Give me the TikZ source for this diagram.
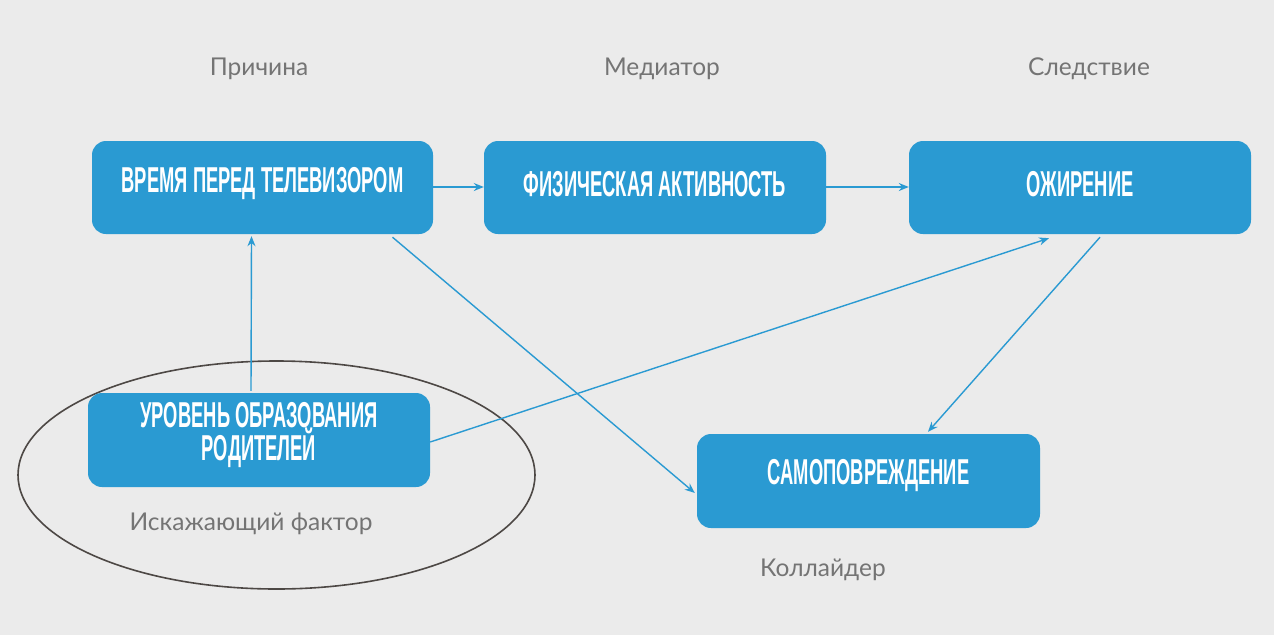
\documentclass[tikz,border=0pt]{standalone}
\usepackage{fontspec}
\setmainfont{Lato}
\newfontfamily\boxfont{Liberation Sans}[FakeStretch=0.51]
\usetikzlibrary{shapes.geometric,arrows.meta}
\definecolor{bg}{HTML}{EBEBEB}
\definecolor{boxblue}{HTML}{2A9AD2}
\definecolor{lblgray}{HTML}{747474}
\definecolor{ellgray}{HTML}{4D4845}
\tikzset{
  box/.style={draw=none,fill=boxblue,rounded corners=14pt,inner sep=0pt},
  boxtext/.style={text=white,font=\boxfont\bfseries\fontsize{36}{32}\selectfont,align=center,inner sep=0pt},
  lbl/.style={text=lblgray,font=\fontsize{24.5}{28}\selectfont,inner sep=0pt},
  conn/.style={draw=boxblue,line width=1.4pt,-{Stealth[length=10pt,width=8pt]}},
  ell/.style={draw=ellgray,line width=1.6pt,ellipse,inner sep=0pt}
}
\begin{document}
\begin{tikzpicture}[x=1pt,y=-1pt]
\fill[bg] (0,0) rectangle (1274,635);
\useasboundingbox (0,0) rectangle (1274,635);
% labels
\node[lbl] (lcause) at (259,69) {Причина};
\node[lbl] (lmed) at (662,69) {Медиатор};
\node[lbl] (leff) at (1089,69) {Следствие};
% ellipse
\node[ell,minimum width=517pt,minimum height=228pt] (conf) at (276.5,475) {};
\node[lbl] (lconf) at (251,524) {Искажающий фактор};
\node[lbl] (lcoll) at (823,570) {Коллайдер};
% boxes
\node[box,minimum width=341pt,minimum height=93pt] (tv) at (262.5,187.5) {};
\node[boxtext] (tvt) at (262.5,184) {ВРЕМЯ ПЕРЕД ТЕЛЕВИЗОРОМ};
\node[box,minimum width=342pt,minimum height=93pt] (phys) at (655,187.5) {};
\node[boxtext] (physt) at (655,184) {ФИЗИЧЕСКАЯ АКТИВНОСТЬ};
\node[box,minimum width=342pt,minimum height=93pt] (obese) at (1080,187.5) {};
\node[boxtext] (obeset) at (1080,184) {ОЖИРЕНИЕ};
\node[box,minimum width=342pt,minimum height=94pt] (edu) at (259,440) {};
\node[boxtext] (edut) at (259,435) {УРОВЕНЬ ОБРАЗОВАНИЯ\\РОДИТЕЛЕЙ};
\node[box,minimum width=343pt,minimum height=94pt] (samo) at (868.5,481) {};
\node[boxtext] (samot) at (868.5,476) {САМОПОВРЕЖДЕНИЕ};
% connectors
\draw[conn] ([yshift=0.5pt]tv.east) -- ([yshift=0.5pt]phys.west);
\draw[conn] ([yshift=0.5pt]phys.east) -- ([yshift=0.5pt]obese.west);
\draw[conn] ([xshift=-8pt,yshift=2pt]edu.north) -- ([xshift=-11pt,yshift=-2pt]tv.south);
\draw[conn] ([xshift=130pt,yshift=-3pt]tv.south) -- ([xshift=-2pt,yshift=-12pt]samo.west);
\draw[conn] ([yshift=-2pt]edu.east) -- ([xshift=-31pt,yshift=-4pt]obese.south);
\draw[conn] ([xshift=20pt,yshift=-3pt]obese.south) -- ([xshift=59.5pt,yshift=2pt]samo.north);
\end{tikzpicture}
\end{document}
